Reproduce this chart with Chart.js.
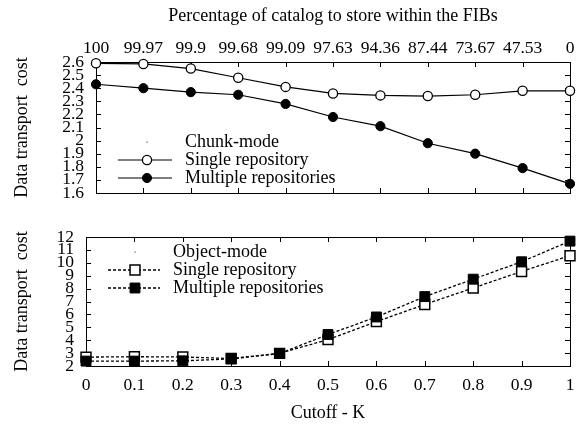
<!DOCTYPE html>
<html>
<head>
<meta charset="utf-8">
<script src="https://cdn.jsdelivr.net/npm/chart.js@4"></script>
<style>
  html, body { margin: 0; padding: 0; background: #fff; }
  #top { position: absolute; left: 0; top: 0; width: 584px; height: 200px; }
  #bottom { position: absolute; left: 0; top: 200px; width: 584px; height: 226px; }
</style>
</head>
<body>
<div id="top"><canvas id="chunkChart"></canvas></div>
<div id="bottom"><canvas id="objectChart"></canvas></div>
<script>
// values
const pctLabels = ['100', '99.97', '99.9', '99.68', '99.09', '97.63', '94.36', '87.44', '73.67', '47.53', '0'];
const cutoffLabels = ['0', '0.1', '0.2', '0.3', '0.4', '0.5', '0.6', '0.7', '0.8', '0.9', '1'];

const chunkSingle   = [2.59, 2.585, 2.55, 2.48, 2.41, 2.36, 2.345, 2.34, 2.35, 2.38, 2.38];
const chunkMultiple = [2.43, 2.40, 2.37, 2.35, 2.28, 2.18, 2.11, 1.98, 1.90, 1.79, 1.67];

const objectSingle   = [2.69, 2.72, 2.70, 2.58, 2.98, 4.05, 5.44, 6.77, 8.05, 9.33, 10.55];
const objectMultiple = [2.38, 2.38, 2.40, 2.55, 2.97, 4.44, 5.80, 7.38, 8.73, 10.08, 11.68];

const serif = '"Liberation Serif", "Times New Roman", serif';
Chart.defaults.color = '#000';
Chart.defaults.font.family = serif;

// gnuplot-style box with inward ticks on every side
const frame = {
  id: 'frame',
  beforeDatasetsDraw(chart) {
    const {ctx, chartArea: a, scales: {x, y}} = chart;
    ctx.save();
    ctx.strokeStyle = '#000';
    ctx.lineWidth = 1;
    ctx.beginPath();
    x.ticks.forEach((t, i) => {
      const px = Math.round(x.getPixelForTick(i)) + 0.5;
      ctx.moveTo(px, a.top); ctx.lineTo(px, a.top + 5);
      ctx.moveTo(px, a.bottom); ctx.lineTo(px, a.bottom - 5);
    });
    y.ticks.forEach((t, i) => {
      const py = Math.round(y.getPixelForTick(i)) + 0.5;
      ctx.moveTo(a.left, py); ctx.lineTo(a.left + 5, py);
      ctx.moveTo(a.right, py); ctx.lineTo(a.right - 5, py);
    });
    ctx.stroke();
    ctx.strokeRect(Math.round(a.left) + 0.5, Math.round(a.top) + 0.5,
                   Math.round(a.right - a.left), Math.round(a.bottom - a.top));
    ctx.restore();
  }
};

function drawMarker(ctx, kind, fill, x, y, r) {
  ctx.beginPath();
  if (kind === 'circle') ctx.arc(x, y, r, 0, Math.PI * 2);
  else { const h = r * Math.SQRT1_2; ctx.rect(x - h, y - h, 2 * h, 2 * h); }
  ctx.fillStyle = fill;
  ctx.fill();
  ctx.stroke();
}

function legendPlugin(header, entries, g) {
  return {
    id: 'keyBox',
    afterDatasetsDraw(chart) {
      const {ctx, chartArea: a} = chart;
      ctx.save();
      ctx.font = '18px ' + serif;
      ctx.textBaseline = 'middle';
      ctx.fillStyle = '#555';
      ctx.fillRect(a.left + g.mark - 0.5, a.top + g.rows[0] - 0.5, 1.2, 1.2);
      ctx.fillStyle = '#000';
      ctx.fillText(header, a.left + g.text, a.top + g.rows[0]);
      entries.forEach((e, i) => {
        const yy = a.top + g.rows[i + 1];
        ctx.strokeStyle = '#000';
        ctx.lineWidth = e.width;
        ctx.setLineDash(e.dash);
        ctx.beginPath();
        ctx.moveTo(a.left + g.x0, yy);
        ctx.lineTo(a.left + g.x1, yy);
        ctx.stroke();
        ctx.setLineDash([]);
        ctx.lineWidth = e.markerWidth;
        drawMarker(ctx, e.kind, e.fill, a.left + g.mark, yy, e.r);
        ctx.fillStyle = '#000';
        ctx.fillText(e.label, a.left + g.text, yy);
      });
      ctx.restore();
    }
  };
}

const trimNum = v => String(+Number(v).toFixed(1));
const noPad = s => { s.paddingTop = 0; s.paddingBottom = 0; s.paddingLeft = 0; s.paddingRight = 0; };

new Chart(document.getElementById('chunkChart'), {
  type: 'line',
  data: {
    labels: pctLabels,
    datasets: [{
      label: 'Single repository',
      data: chunkSingle,
      borderColor: '#000', borderWidth: 1.2,
      pointRadius: 4.6, pointBackgroundColor: '#fff', pointBorderColor: '#000', pointBorderWidth: 1.3,
      clip: false, tension: 0
    }, {
      label: 'Multiple repositories',
      data: chunkMultiple,
      borderColor: '#000', borderWidth: 1.2,
      pointRadius: 4.6, pointBackgroundColor: '#000', pointBorderColor: '#000', pointBorderWidth: 1,
      clip: false, tension: 0
    }]
  },
  options: {
    responsive: true, maintainAspectRatio: false, animation: false,
    layout: { padding: { top: 0, right: 14, bottom: 7, left: 0 } },
    plugins: { legend: { display: false }, tooltip: { enabled: false } },
    scales: {
      x: {
        type: 'category', position: 'top', offset: false,
        grid: { display: false, drawTicks: false }, border: { display: false },
        ticks: { autoSkip: false, maxRotation: 0, minRotation: 0, padding: 3.5, font: { size: 17.5 } },
        title: { display: true, text: 'Percentage of catalog to store within the FIBs',
                 font: { size: 18 }, padding: { top: 5, bottom: 0 } },
        afterFit: s => { s.height = 62; noPad(s); }
      },
      y: {
        min: 1.6, max: 2.6,
        grid: { display: false, drawTicks: false }, border: { display: false },
        ticks: { stepSize: 0.1, autoSkip: false, padding: 12, font: { size: 17.5 }, callback: trimNum },
        title: { display: true, text: 'Data transport  cost', font: { size: 18 }, padding: { top: 11, bottom: 0 } },
        afterFit: s => { s.width = 96; noPad(s); }
      }
    }
  },
  plugins: [frame, legendPlugin('Chunk-mode', [
    { label: 'Single repository', kind: 'circle', fill: '#fff', r: 4.6, dash: [], width: 1.2, markerWidth: 1.3 },
    { label: 'Multiple repositories', kind: 'circle', fill: '#000', r: 4.6, dash: [], width: 1.2, markerWidth: 1 }
  ], { mark: 51, text: 89, x0: 22, x1: 76, rows: [80, 98, 116] })]
});

new Chart(document.getElementById('objectChart'), {
  type: 'line',
  data: {
    labels: cutoffLabels,
    datasets: [{
      label: 'Single repository',
      data: objectSingle, order: 1,
      borderColor: '#000', borderWidth: 1.3, borderDash: [3, 2],
      pointStyle: 'rect', pointRadius: 7, pointBackgroundColor: '#fff', pointBorderColor: '#000', pointBorderWidth: 1.5,
      clip: false, tension: 0
    }, {
      label: 'Multiple repositories',
      data: objectMultiple, order: 0,
      borderColor: '#000', borderWidth: 1.3, borderDash: [3, 2],
      pointStyle: 'rect', pointRadius: 7, pointBackgroundColor: '#000', pointBorderColor: '#000', pointBorderWidth: 1,
      clip: false, tension: 0
    }]
  },
  options: {
    responsive: true, maintainAspectRatio: false, animation: false,
    layout: { padding: { top: 37, right: 14, bottom: 0, left: 0 } },
    plugins: { legend: { display: false }, tooltip: { enabled: false } },
    scales: {
      x: {
        type: 'category', offset: false,
        grid: { display: false, drawTicks: false }, border: { display: false },
        ticks: { autoSkip: false, maxRotation: 0, minRotation: 0, padding: 8.5, font: { size: 17.5 } },
        title: { display: true, text: 'Cutoff - K', font: { size: 18 }, padding: { top: 0, bottom: 2 } },
        afterFit: s => { s.height = 60; noPad(s); }
      },
      y: {
        min: 2, max: 12,
        grid: { display: false, drawTicks: false }, border: { display: false },
        ticks: { stepSize: 1, autoSkip: false, padding: 12, font: { size: 17.5 } },
        title: { display: true, text: 'Data transport  cost', font: { size: 18 }, padding: { top: 11, bottom: 0 } },
        afterFit: s => { s.width = 86; noPad(s); }
      }
    }
  },
  plugins: [frame, legendPlugin('Object-mode', [
    { label: 'Single repository', kind: 'rect', fill: '#fff', r: 7, dash: [3, 2], width: 1.3, markerWidth: 1.5 },
    { label: 'Multiple repositories', kind: 'rect', fill: '#000', r: 7, dash: [3, 2], width: 1.3, markerWidth: 1 }
  ], { mark: 49, text: 87, x0: 22, x1: 74, rows: [15, 33, 51] })]
});
</script>
</body>
</html>
